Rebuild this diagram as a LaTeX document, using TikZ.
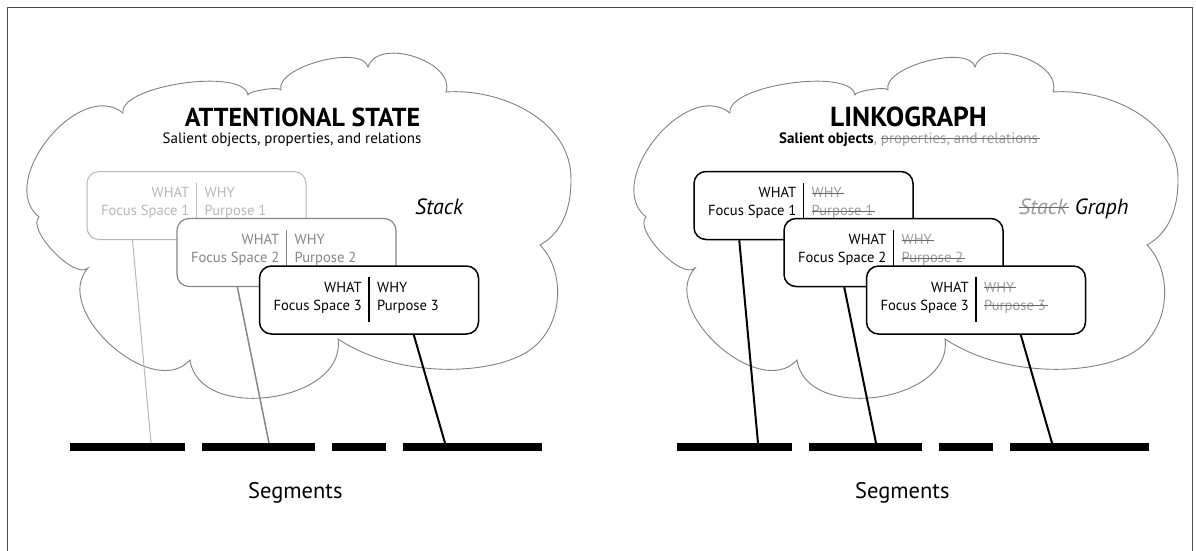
\documentclass[tikz,border=0pt]{standalone}
\usepackage{fontspec}
\setmainfont{PT Sans}
\usetikzlibrary{calc}

\definecolor{inkA}{HTML}{B8B8B8}
\definecolor{inkB}{HTML}{868686}
\definecolor{dropped}{HTML}{9C9C9C}
\definecolor{dropline}{HTML}{6A6A6A}
\definecolor{cloudgray}{HTML}{808080}

% text with a line drawn through it
\newcommand\strk[1]{%
  \setbox0=\hbox{#1}%
  \rlap{\copy0}{\color{dropline}\rule[0.26em]{\dimexpr\wd0+2pt\relax}{0.07em}}}

% outline of the thought cloud, clockwise from its upper left cusp
\newcommand\cloudshape{%
  \coordinate (c1) at (123,-113);
  \coordinate (c2) at (248,-95);
  \coordinate (c3) at (281,-90);
  \coordinate (c4) at (368,-67);
  \coordinate (c5) at (446,-92);
  \coordinate (c6) at (540,-245);
  \coordinate (c7) at (338,-339);
  \coordinate (c8) at (190,-360);
  \coordinate (c9) at (88,-268);
  \coordinate (c10) at (39,-217);
  \draw[cloudline] (c1)
    .. controls ($(c1)!28pt!90:(c2)$) and ($(c2)!28pt!-90:(c1)$) .. (c2)
    .. controls ($(c2)!4pt!90:(c3)$) and ($(c3)!4pt!-90:(c2)$) .. (c3)
    .. controls ($(c3)!24pt!90:(c4)$) and ($(c4)!24pt!-90:(c3)$) .. (c4)
    .. controls ($(c4)!32pt!90:(c5)$) and ($(c5)!32pt!-90:(c4)$) .. (c5)
    .. controls (500,-88) and (572,-120) .. (571,-180)
    .. controls (571,-215) and (558,-235) .. (c6)
    .. controls (565,-270) and (565,-325) .. (530,-350)
    .. controls (495,-375) and (400,-380) .. (c7)
    .. controls ($(c7)!64pt!90:(c8)$) and ($(c8)!64pt!-90:(c7)$) .. (c8)
    .. controls ($(c8)!56pt!90:(c9)$) and ($(c9)!56pt!-90:(c8)$) .. (c9)
    .. controls ($(c9)!18pt!90:(c10)$) and ($(c10)!18pt!-90:(c9)$) .. (c10)
    .. controls ($(c10)!56pt!90:(c1)$) and ($(c1)!56pt!-90:(c10)$) .. cycle;
}

\tikzset{
  cloudline/.style={draw=cloudgray, line width=0.9pt, fill=white},
  frameline/.style={draw=black!70, line width=1.3pt},
  focusbox/.style={draw, rounded corners=12pt, fill=white, minimum width=219pt,
    minimum height=68pt, inner sep=0pt, line width=1.2pt},
  lefttext/.style={anchor=east, align=right, inner sep=0pt,
    font=\fontsize{14.6}{18}\selectfont},
  righttext/.style={anchor=west, align=left, inner sep=0pt,
    font=\fontsize{14.6}{18}\selectfont},
  titletext/.style={anchor=base, inner sep=0pt, font=\fontsize{26}{30}\selectfont\bfseries},
  subtext/.style={inner sep=0pt, font=\fontsize{15}{17}\selectfont},
  stacktext/.style={anchor=base west, inner sep=0pt, font=\fontsize{22}{26}\selectfont\itshape},
  segtext/.style={anchor=base west, inner sep=0pt, font=\fontsize{22.5}{26}\selectfont},
  segbar/.style={fill=black, anchor=north west, inner sep=0pt, minimum height=8pt,
    minimum width=#1},
}

\begin{document}
\begin{tikzpicture}[x=1pt,y=1pt]
\useasboundingbox (0,0) rectangle (1196,-550);
\fill[white] (0,0) rectangle (1196,-550);
\draw[frameline] (7.5,-570) -- (7.5,-7.5) -- (1192.5,-7.5) -- (1192.5,-570);

% ---------------- attentional state (stack of focus spaces)
\cloudshape
\node[titletext] (t1) at (302.5,-126.5) {ATTENTIONAL STATE};
\node[subtext, anchor=base] (st1) at (292,-143) {Salient objects, properties, and relations};
\node[stacktext] (k1) at (415,-214) {Stack};

\node[focusbox, draw=inkA, line width=1pt] (a1) at (196.5,-205.5) {};
\draw[inkA, line width=1.4pt] ($(a1.center)+(0,23)$) -- ($(a1.center)+(0,-22)$);
\node[lefttext, text=inkA] (a1w) at ($(a1.center)+(-7,2.5)$) {WHAT\\Focus Space 1};
\node[righttext, text=inkA] (a1y) at ($(a1.center)+(8,2.5)$) {WHY\\Purpose 1};

\node[focusbox, draw=inkB] (a2) at (286.5,-252.5) {};
\draw[inkB, line width=1.5pt] ($(a2.center)+(0,23)$) -- ($(a2.center)+(0,-22)$);
\node[lefttext, text=inkB] (a2w) at ($(a2.center)+(-7,2.5)$) {WHAT\\Focus Space 2};
\node[righttext, text=inkB] (a2y) at ($(a2.center)+(8,2.5)$) {WHY\\Purpose 2};

\node[focusbox, draw=black, line width=1.5pt] (a3) at (369,-300) {};
\draw[black, line width=1.8pt] ($(a3.center)+(0,23)$) -- ($(a3.center)+(0,-22)$);
\node[lefttext] (a3w) at ($(a3.center)+(-7,2.5)$) {WHAT\\Focus Space 3};
\node[righttext] (a3y) at ($(a3.center)+(8,2.5)$) {WHY\\Purpose 3};

\node[segbar=115pt] (s1) at (70,-443) {};
\node[segbar=113pt] (s2) at (202,-443) {};
\node[segbar=54pt] (s3) at (332,-443) {};
\node[segbar=139pt] (s4) at (403,-443) {};

\draw[inkA, line width=1pt] ($(a1.south west)+(46,0)$) -- ($(s1.north west)+(81,0)$);
\draw[inkB, line width=1.5pt] ($(a2.south west)+(61,0)$) -- ($(s2.north west)+(67,0)$);
\draw[black, line width=2pt] ($(a3.south west)+(155,0)$) -- ($(s4.north west)+(42,0)$);

\node[segtext] (sg1) at (248,-498) {Segments};

% ---------------- linkograph (graph of focus spaces)
\begin{scope}[xshift=607pt]
\cloudshape
\node[titletext, font=\fontsize{27.5}{30}\selectfont\bfseries] (t2) at (301.5,-126.5) {LINKOGRAPH};
\node[subtext, anchor=base west] (st2) at (172,-143)
  {\bfseries Salient objects\mdseries\color{dropped}, \strk{properties, and relations}};
\node[stacktext] (k2) at (412,-214) {{\color{dropped}\strk{Stack}} Graph};

\node[focusbox, draw=black, line width=1.5pt] (b1) at (196.5,-205.5) {};
\draw[black, line width=1.8pt] ($(b1.center)+(0,23)$) -- ($(b1.center)+(0,-22)$);
\node[lefttext] (b1w) at ($(b1.center)+(-7,2.5)$) {WHAT\\Focus Space 1};
\node[righttext, text=dropped] (b1y) at ($(b1.center)+(8,2.5)$) {\strk{WHY}\\\strk{Purpose 1}};

\node[focusbox, draw=black, line width=1.5pt] (b2) at (286.5,-252.5) {};
\draw[black, line width=1.8pt] ($(b2.center)+(0,23)$) -- ($(b2.center)+(0,-22)$);
\node[lefttext] (b2w) at ($(b2.center)+(-7,2.5)$) {WHAT\\Focus Space 2};
\node[righttext, text=dropped] (b2y) at ($(b2.center)+(8,2.5)$) {\strk{WHY}\\\strk{Purpose 2}};

\node[focusbox, draw=black, line width=1.5pt] (b3) at (369,-300) {};
\draw[black, line width=1.8pt] ($(b3.center)+(0,23)$) -- ($(b3.center)+(0,-22)$);
\node[lefttext] (b3w) at ($(b3.center)+(-7,2.5)$) {WHAT\\Focus Space 3};
\node[righttext, text=dropped] (b3y) at ($(b3.center)+(8,2.5)$) {\strk{WHY}\\\strk{Purpose 3}};

\node[segbar=115pt] (r1) at (70,-443) {};
\node[segbar=113pt] (r2) at (202,-443) {};
\node[segbar=54pt] (r3) at (332,-443) {};
\node[segbar=139pt] (r4) at (403,-443) {};

\draw[black, line width=2pt] ($(b1.south west)+(46,0)$) -- ($(r1.north west)+(81,0)$);
\draw[black, line width=2pt] ($(b2.south west)+(61,0)$) -- ($(r2.north west)+(67,0)$);
\draw[black, line width=2pt] ($(b3.south west)+(155,0)$) -- ($(r4.north west)+(42,0)$);

\node[segtext] (sg2) at (248,-498) {Segments};
\end{scope}
\end{tikzpicture}
\end{document}
